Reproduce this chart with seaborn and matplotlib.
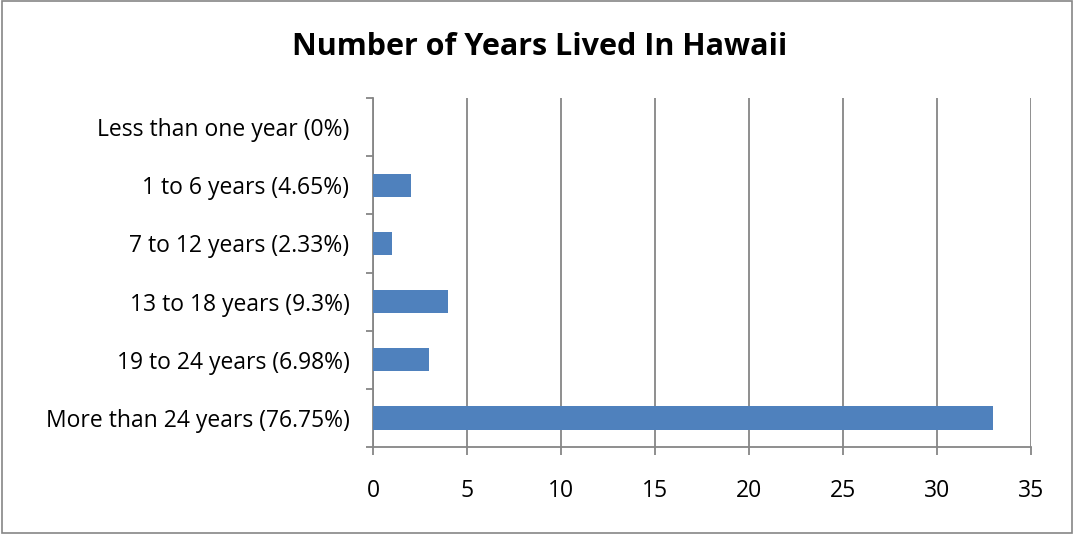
import numpy as np
import pandas as pd
import matplotlib
matplotlib.use("Agg")
import matplotlib.pyplot as plt
import seaborn as sns

categories = ["Less than one year (0%)", "1 to 6 years (4.65%)", "7 to 12 years (2.33%)",
              "13 to 18 years (9.3%)", "19 to 24 years (6.98%)", "More than 24 years (76.75%)"]
counts = [0, 2, 1, 4, 3, 33]
x_ticks = [0, 5, 10, 15, 20, 25, 30, 35]

sns.set_style("white")
plt.rcParams['font.family'] = ['Open Sans', 'DejaVu Sans']
plt.rcParams['text.color'] = 'black'

df = pd.DataFrame({"category": categories, "count": counts})

fig = plt.figure(figsize=(10.74, 5.34), dpi=100)
ax = fig.add_axes([373 / 1074, 1 - 447 / 534, (1031 - 373) / 1074, (447 - 98) / 534])

sns.barplot(data=df, x="count", y="category", color="#4F81BD", saturation=1,
            width=0.4, linewidth=0, ax=ax, zorder=3)

ax.set_xlim(0, 35)
ax.set_ylim(len(categories) - 0.5, -0.5)
ax.set_xticks(x_ticks)
ax.xaxis.grid(True, color="#868686", linewidth=1.3, zorder=0)
ax.yaxis.grid(False)
ax.set_axisbelow(True)

# y ticks at category boundaries, labels centered
ax.set_yticks(np.arange(len(categories)))
ax.set_yticklabels(categories)
ax.set_yticks(np.arange(-0.5, len(categories), 1), minor=True)
ax.tick_params(axis="y", which="major", length=0, pad=17, labelsize=16.5, labelcolor="black")
ax.tick_params(axis="y", which="minor", length=5, width=1.3, color="#868686", direction="out")
ax.tick_params(axis="x", length=6, width=1.3, color="#868686", direction="out", pad=17,
               labelsize=16.5, labelcolor="black")
ax.xaxis.set_ticks_position("bottom")
ax.yaxis.set_ticks_position("left")

for s in ["top", "right"]:
    ax.spines[s].set_visible(False)
for s in ["left", "bottom"]:
    ax.spines[s].set_color("#868686")
    ax.spines[s].set_linewidth(1.3)

ax.set_xlabel("")
ax.set_ylabel("")

fig.text(540 / 1074, 1 - 47 / 534, "Number of Years Lived In Hawaii", ha="center", va="center",
         fontsize=22, fontweight="bold", color="black")

# outer border
fig.patches.append(plt.Rectangle((0.002, 0.002), 0.996, 0.996, transform=fig.transFigure,
                                 fill=False, edgecolor="#868686", linewidth=1.2))

fig.savefig("out.png", dpi=100)
